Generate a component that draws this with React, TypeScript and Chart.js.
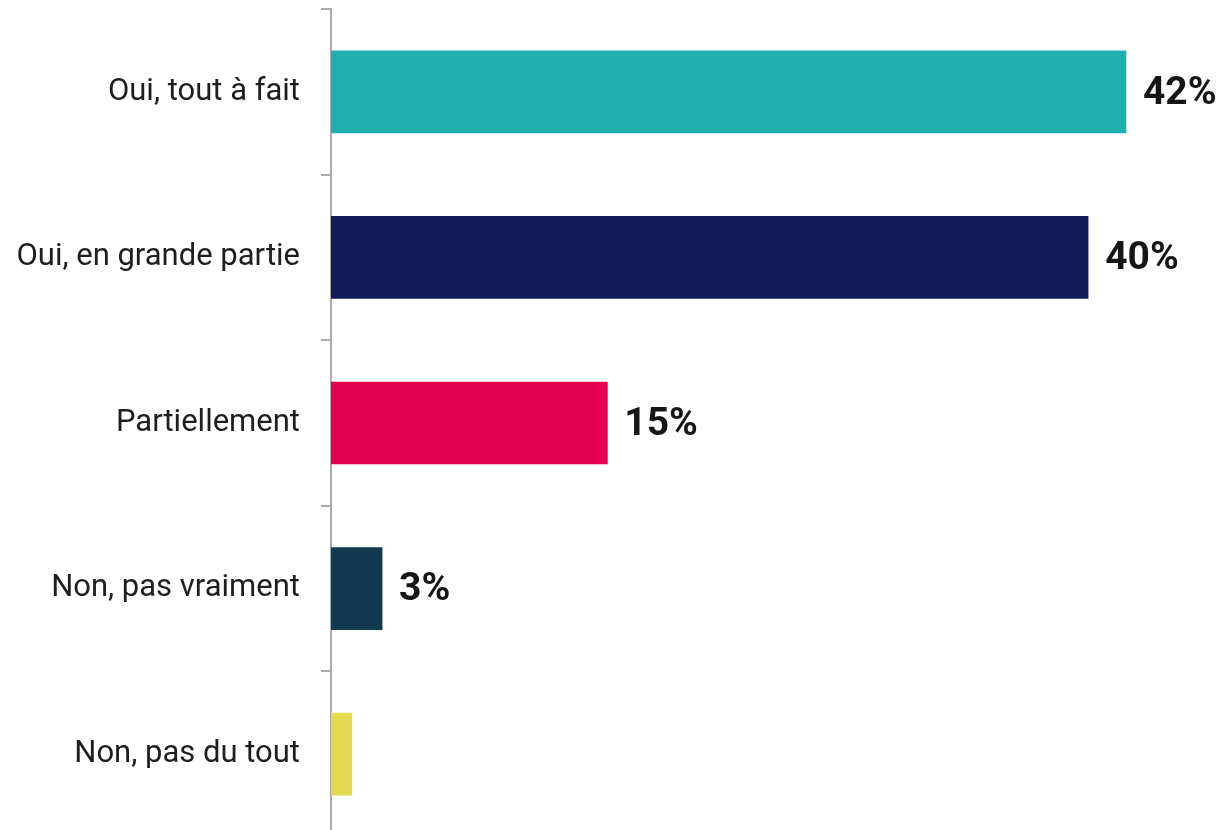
import React, { useEffect, useRef } from "react";
import { Chart, registerables } from "chart.js";

Chart.register(...registerables);

const categories = [
  "Oui, tout à fait",
  "Oui, en grande partie",
  "Partiellement",
  "Non, pas vraiment",
  "Non, pas du tout",
];
const values = [42, 40, 14.6, 2.7, 1.1];
const valueLabels = ["42%", "40%", "15%", "3%", ""];
const barColors = ["#1FAFAF", "#121B58", "#E4004F", "#113A4E", "#E2DB52"];
const xMax = 46.65;

const labelPlugin = {
  id: "valueLabels",
  afterDatasetsDraw(chart: any) {
    const ctx = chart.ctx;
    const meta = chart.getDatasetMeta(0);
    ctx.save();
    ctx.font = "bold 39px Roboto, sans-serif";
    ctx.fillStyle = "#161616";
    ctx.textAlign = "left";
    ctx.textBaseline = "middle";
    meta.data.forEach((bar: any, i: number) => {
      const t = valueLabels[i];
      if (!t) return;
      ctx.fillText(t, bar.x + 17, bar.y + 2);
    });
    ctx.restore();
  },
};

export default function App() {
  const ref = useRef<HTMLCanvasElement | null>(null);
  useEffect(() => {
    if (!ref.current) return;
    const chart = new Chart(ref.current, {
      type: "bar",
      data: {
        labels: categories,
        datasets: [
          {
            data: values,
            backgroundColor: barColors,
            barThickness: 82,
            borderWidth: 0,
          },
        ],
      },
      options: {
        indexAxis: "y",
        animation: false,
        responsive: false,
        maintainAspectRatio: false,
        layout: { padding: { top: 1, right: 8, bottom: 0, left: 0 } },
        plugins: {
          legend: { display: false },
          tooltip: { enabled: false },
        },
        scales: {
          x: {
            display: false,
            min: 0,
            max: xMax,
          },
          y: {
            afterFit: (scale: any) => {
              scale.width = 323;
              scale.paddingTop = 0;
              scale.paddingBottom = 0;
            },
            border: { display: true, color: "#ABABAB", width: 2 },
            grid: {
              display: true,
              drawOnChartArea: false,
              drawTicks: true,
              tickLength: 10,
              color: "#ABABAB",
              lineWidth: 2,
              offset: true,
            },
            ticks: {
              padding: 21,
              color: "#1E1E1E",
              font: { family: "Roboto, sans-serif", size: 31 },
            },
          },
        },
      },
      plugins: [labelPlugin],
    });
    return () => chart.destroy();
  }, []);
  return (
    <div
      style={{
        position: "fixed",
        top: 8,
        left: 8,
        width: 1214,
        height: 822,
        overflow: "hidden",
      }}
    >
      <canvas ref={ref} width={1214} height={829} style={{ display: "block" }} />
    </div>
  );
}
